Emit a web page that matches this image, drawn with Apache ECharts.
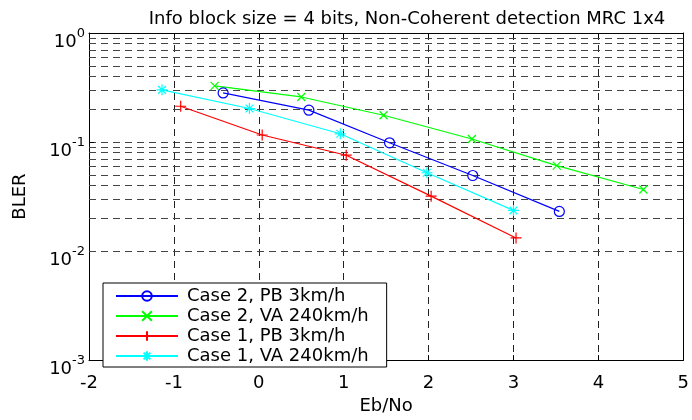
<!DOCTYPE html>
<html>
<head>
<meta charset="utf-8">
<style>
	html, body { margin: 0; padding: 0; background: #fff; }
	#bler { width: 692px; height: 420px; }
</style>
<script src="https://cdn.jsdelivr.net/npm/echarts@6/dist/echarts.min.js"></script>
</head>
<body>
<div id="bler"></div>
<script>
	// values (Eb/No in dB, BLER)
	var seriesNames = ['Case 2, PB 3km/h', 'Case 2, VA 240km/h', 'Case 1, PB 3km/h', 'Case 1, VA 240km/h'];
	var case2PbX = [-0.42, 0.59, 1.54, 2.52, 3.54];
	var case2PbY = [0.282, 0.196, 0.0984, 0.0493, 0.0231];
	var case2VaX = [-0.52, 0.50, 1.47, 2.51, 3.51, 4.53];
	var case2VaY = [0.327, 0.259, 0.176, 0.1066, 0.0607, 0.0367];
	var case1PbX = [-0.92, 0.04, 1.03, 2.03, 3.03];
	var case1PbY = [0.213, 0.116, 0.0757, 0.0319, 0.0132];
	var case1VaX = [-1.14, -0.11, 0.96, 1.98, 3.00];
	var case1VaY = [0.301, 0.203, 0.119, 0.0523, 0.0236];
	// minor grid lines of the log axis
	var minorLevels = [];
	[0.001, 0.01, 0.1].forEach(function (d) {
		for (var k = 2; k <= 9; k++) minorLevels.push(+(k * d).toPrecision(3));
	});

	var font = 'DejaVu Sans';

	function pairs(xs, ys) {
		return xs.map(function (x, i) { return [x, ys[i]]; });
	}

	function lineSeries(name, xs, ys, color, symbol, size) {
		return {
			name: name,
			type: 'line',
			data: pairs(xs, ys),
			symbol: symbol,
			symbolSize: size,
			lineStyle: { color: color, width: 1.2 },
			itemStyle: { color: 'none', borderColor: color, borderWidth: 1.2 },
			emphasis: { disabled: true },
			animation: false,
			z: 5
		};
	}

	var chart = echarts.init(document.getElementById('bler'));

	var option = {
		backgroundColor: '#fff',
		title: {
			text: 'Info block size = 4 bits, Non-Coherent detection MRC 1x4',
			left: 402,
			textAlign: 'center',
			top: 5,
			textStyle: { fontFamily: font, fontSize: 18, fontWeight: 'normal', color: '#000' }
		},
		grid: { left: 89, right: 4, top: 33, bottom: 45 },
		legend: {
			orient: 'vertical',
			left: 103,
			top: 283,
			data: seriesNames,
			padding: [3, 18, 1, 12],
			itemGap: 0,
			itemWidth: 62,
			itemHeight: 12,
			backgroundColor: '#fff',
			borderColor: '#000',
			borderWidth: 1,
			borderRadius: 0,
			textStyle: { fontFamily: font, fontSize: 18, color: '#000', lineHeight: 20, padding: [0, 0, 0, 4] }
		},
		xAxis: [{
			type: 'value',
			min: -2,
			max: 5,
			interval: 1,
			name: 'Eb/No',
			nameLocation: 'middle',
			nameGap: 27,
			nameTextStyle: { fontFamily: font, fontSize: 18, color: '#000' },
			axisLine: { onZero: false, lineStyle: { color: '#000', width: 1 } },
			axisTick: { inside: true, length: 5, lineStyle: { color: '#000' } },
			axisLabel: { fontFamily: font, fontSize: 18, color: '#000', margin: 14 },
			splitLine: { show: true, lineStyle: { color: '#222', type: [7, 5], width: 1 } }
		}, {
			type: 'value',
			position: 'top',
			min: -2,
			max: 5,
			interval: 1,
			axisLine: { show: true, onZero: false, lineStyle: { color: '#000', width: 1 } },
			axisTick: { inside: true, length: 5, lineStyle: { color: '#000' } },
			axisLabel: { show: false },
			splitLine: { show: false }
		}],
		yAxis: [{
			type: 'log',
			logBase: 10,
			min: 0.001,
			max: 1,
			name: 'BLER',
			nameLocation: 'middle',
			nameGap: 60,
			nameTextStyle: { fontFamily: font, fontSize: 18, color: '#000' },
			axisLine: { show: true, onZero: false, lineStyle: { color: '#000', width: 1 } },
			axisTick: { inside: true, length: 5, lineStyle: { color: '#000' } },
			axisLabel: {
				margin: 4,
				padding: [12, 0, 0, 0],
				formatter: function (v) {
					var e = Math.round(Math.log(v) / Math.LN10);
					return '{b|10}{s|' + e + '}';
				},
				rich: {
					b: { fontFamily: font, fontSize: 18, color: '#000', lineHeight: 24, verticalAlign: 'bottom' },
					s: { fontFamily: font, fontSize: 13, color: '#000', lineHeight: 24, verticalAlign: 'top' }
				}
			},
			splitLine: { show: true, lineStyle: { color: '#444', type: [7, 5], width: 1 } }
		}, {
			type: 'log',
			logBase: 10,
			min: 0.001,
			max: 1,
			position: 'right',
			axisLine: { show: true, onZero: false, lineStyle: { color: '#000', width: 1 } },
			axisTick: { inside: true, length: 5, lineStyle: { color: '#000' } },
			axisLabel: { show: false },
			splitLine: { show: false }
		}],
		series: [
			{
				name: 'grid',
				type: 'line',
				data: [],
				silent: true,
				animation: false,
				markLine: {
					silent: true,
					symbol: ['none', 'none'],
					label: { show: false },
					lineStyle: { color: '#444', type: [7, 5], width: 1 },
					animation: false,
					data: minorLevels.map(function (v) { return { yAxis: v }; })
				}
			},
			lineSeries(seriesNames[0], case2PbX, case2PbY, '#0000ff', 'circle', 10),
			lineSeries(seriesNames[1], case2VaX, case2VaY, '#00ff00', 'path://M0,0L10,10M10,0L0,10', 8),
			lineSeries(seriesNames[2], case1PbX, case1PbY, '#ff0000', 'path://M5,0L5,10M0,5L10,5', 11),
			lineSeries(seriesNames[3], case1VaX, case1VaY, '#00ffff', 'path://M5,0L5,10M0,5L10,5M1.5,1.5L8.5,8.5M8.5,1.5L1.5,8.5', 11)
		]
	};

	chart.setOption(option);
</script>
</body>
</html>
